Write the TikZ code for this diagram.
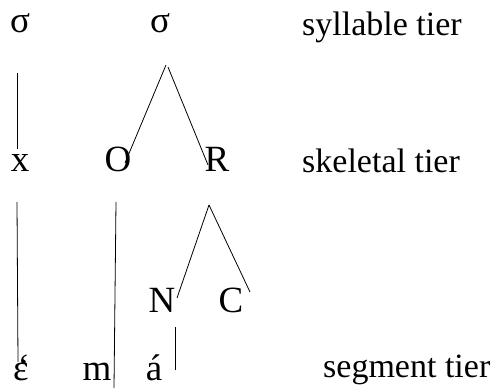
\documentclass[tikz,border=0pt]{standalone}
\usepackage{fontspec}
\setmainfont{Liberation Serif}
\newcommand{\epsgrave}{\makebox[0pt][l]{\kern0.12em\raisebox{0.01em}{\char"60}}ɛ}
\begin{document}
\begin{tikzpicture}[x=1pt,y=-1pt,
  sym/.style={inner sep=0pt,anchor=base,font=\fontsize{37}{44}\selectfont},
  lab/.style={inner sep=0pt,anchor=base west,font=\fontsize{34}{41}\selectfont},
  ln/.style={line width=0.8pt}]
\useasboundingbox (0,0) rectangle (498,390);
% syllable tier
\node[sym] (s1) at (20,33) {σ};
\node[sym] (s2) at (160,33) {σ};
\node[lab] (lsyl) at (302,36) {syllable tier};
% skeletal tier
\node[sym] (x) at (20,172) {x};
\node[sym] (O) at (118,172) {O};
\node[sym] (R) at (217,172) {R};
\node[lab] (lske) at (302,173) {skeletal tier};
% rhyme
\node[sym] (N) at (162,312) {N};
\node[sym] (C) at (231,312) {C};
% segment tier
\node[sym] (e) at (21,380) {\epsgrave};
\node[sym] (m) at (97,380) {m};
\node[sym] (a) at (154,380) {á};
\node[lab] (lseg) at (323,377) {segment tier};
% line endpoints
\coordinate (a1) at (17,73);  \coordinate (b1) at (17,149);
\coordinate (a2) at (166,65); \coordinate (b2) at (125,163);
\coordinate (a3) at (168,67); \coordinate (b3) at (208,165);
\coordinate (a4) at (17,202); \coordinate (b4) at (18,362);
\coordinate (a5) at (116,202); \coordinate (b5) at (114,388);
\coordinate (a6) at (209,205); \coordinate (b6) at (177,298);
\coordinate (b7) at (250,292);
\coordinate (a8) at (175,327); \coordinate (b8) at (175,370);
\draw[ln] (a1) -- (b1);
\draw[ln] (a2) -- (b2);
\draw[ln] (a3) -- (b3);
\draw[ln] (a4) -- (b4);
\draw[ln] (a5) -- (b5);
\draw[ln] (a6) -- (b6);
\draw[ln] (a6) -- (b7);
\draw[ln] (a8) -- (b8);
\end{tikzpicture}
\end{document}
